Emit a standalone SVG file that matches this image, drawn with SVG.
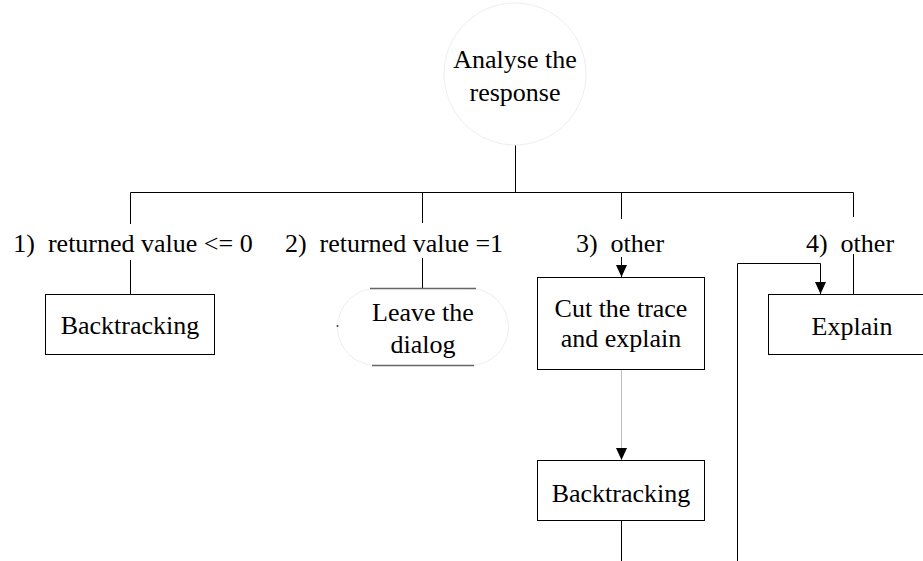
<svg xmlns="http://www.w3.org/2000/svg" width="923" height="561" viewBox="0 0 923 561">
<defs>
<marker id="ah" viewBox="0 0 12 11" refX="12" refY="5.5" markerWidth="12" markerHeight="11" markerUnits="userSpaceOnUse" orient="auto">
<path d="M0,0 L12,5.5 L0,11 Z" fill="#000"/>
</marker>
</defs>
<style>
text{font-size:26px;fill:#000;text-anchor:middle;white-space:pre}
.box{fill:#fff;stroke:#000;stroke-width:1}
.ln{fill:none;stroke:#000;stroke-width:1}
.lt{fill:none;stroke:#bbb;stroke-width:1}
.soft{fill:#fff;stroke:#eee;stroke-width:1}
.grey{stroke:#666;stroke-width:1.5}
</style>
<rect width="923" height="561" fill="#fff"/>
<g font-family="'Liberation Serif', 'Times New Roman', serif">
<g id="connectors">
<path class="ln" d="M515.5,141 V192.5"/>
<path class="ln" d="M130.5,192.5 H853.5"/>
<path class="ln" d="M130.5,192.5 V224 M130.5,260 V294"/>
<path class="ln" d="M422.5,192.5 V223 M422.5,258 V288"/>
<path class="ln" d="M621.5,192.5 V219 M621.5,257 V277" marker-end="url(#ah)"/>
<path class="ln" d="M853.5,192.5 V217 M853.5,254 V294"/>
<path class="lt" d="M621.5,369 V460" marker-end="url(#ah)"/>
<path class="ln" d="M621.5,520 V561"/>
<path class="ln" d="M737.5,561 V263.5 H820.5 V294" marker-end="url(#ah)"/>
<text x="133" y="252">1)  returned value &lt;= 0</text>
<text x="394" y="252">2)  returned value =1</text>
<text x="620" y="252">3)  other</text>
<text x="850" y="252">4)  other</text>
</g>
<g id="analyse">
<circle class="soft" cx="515" cy="74" r="71"/>
<text x="515" y="68">Analyse the</text>
<text x="515" y="101">response</text>
</g>
<g id="backtracking1">
<rect class="box" x="45.5" y="294.5" width="169" height="60"/>
<text x="130" y="334">Backtracking</text>
</g>
<g id="leave">
<rect class="soft" x="337.5" y="288.5" width="171" height="77" rx="38.5"/>
<path class="grey" d="M370,288.5 H476 M372,365.5 H474"/>
<circle cx="337.5" cy="326" r="1" fill="#444"/>
<text x="423" y="321">Leave the</text>
<text x="423" y="353">dialog</text>
</g>
<g id="cut">
<rect class="box" x="537.5" y="277.5" width="167" height="92"/>
<text x="621" y="317">Cut the trace</text>
<text x="621" y="347">and explain</text>
</g>
<g id="backtracking2">
<rect class="box" x="537.5" y="460.5" width="167" height="60"/>
<text x="621" y="502">Backtracking</text>
</g>
<g id="explain">
<rect class="box" x="768.5" y="294.5" width="160" height="60"/>
<text x="852" y="335">Explain</text>
</g>
</g>
</svg>
